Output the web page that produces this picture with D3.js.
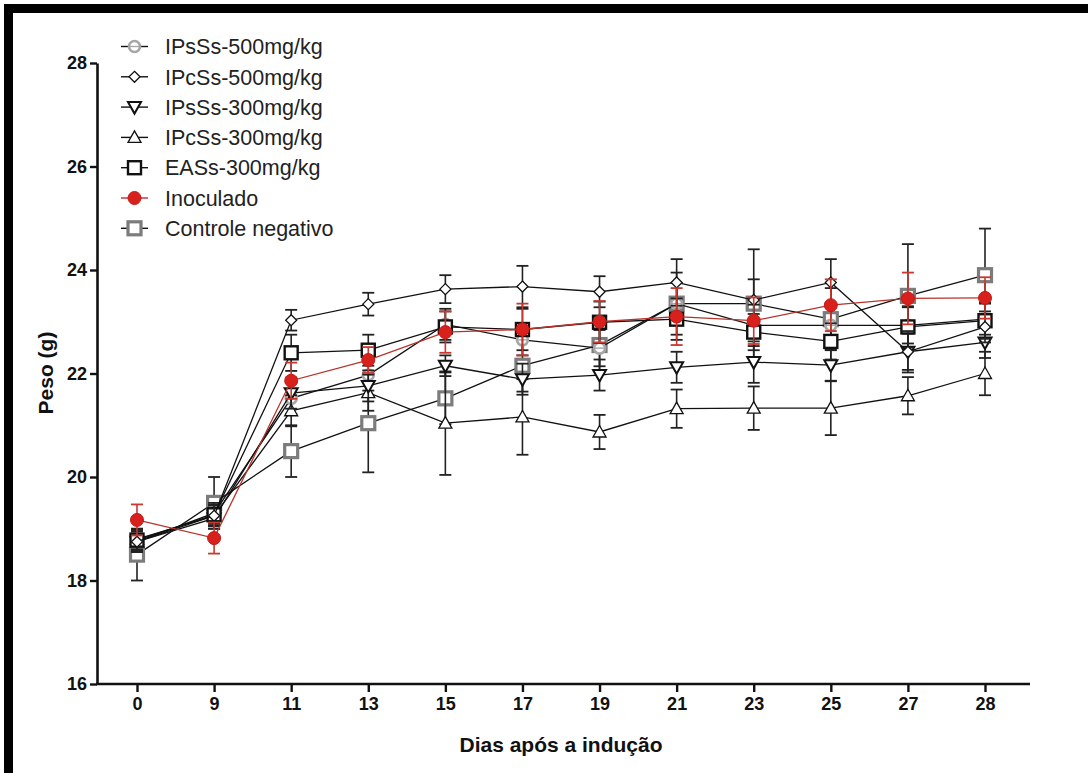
<!DOCTYPE html>
<html>
<head>
<meta charset="utf-8">
<script src="https://cdn.jsdelivr.net/npm/d3@7"></script>
<style>
  html, body { margin: 0; padding: 0; background: #fff; }
  svg { display: block; }
  text { font-family: "Liberation Sans", Arial, Helvetica, sans-serif; }
</style>
</head>
<body>
<svg id="chart" width="1088" height="773"></svg>
<script>
// Days after induction (categorical x positions)
const days = ["0", "9", "11", "13", "15", "17", "19", "21", "23", "25", "27", "28"];
const yTicks = [16, 18, 20, 22, 24, 26, 28];

// Mean body weight (g) per group
const ipsss500 = [18.75, 19.30, 21.52, 21.97, 22.95, 22.65, 22.49, 23.35, 22.93, 22.93, 22.93, 23.05];
const ipcss500 = [18.75, 19.25, 23.03, 23.34, 23.63, 23.68, 23.58, 23.76, 23.42, 23.76, 22.42, 22.90];
const ipsss300 = [18.75, 19.20, 21.62, 21.76, 22.15, 21.89, 21.97, 22.12, 22.22, 22.16, 22.42, 22.60];
const ipcss300 = [18.80, 19.25, 21.28, 21.63, 21.04, 21.16, 20.87, 21.32, 21.33, 21.33, 21.57, 22.00];
const eass300  = [18.78, 19.27, 22.40, 22.45, 22.90, 22.85, 22.99, 23.05, 22.80, 22.62, 22.90, 23.02];
const inoculado = [19.17, 18.82, 21.86, 22.26, 22.80, 22.85, 23.00, 23.10, 23.02, 23.32, 23.45, 23.46];
const controle  = [18.50, 19.50, 20.50, 21.04, 21.52, 22.15, 22.55, 23.35, 23.35, 23.05, 23.50, 23.90];

// Error (SD) per group
const ipsss500Err = [0.20, 0.20, 0.30, 0.30, 0.30, 0.30, 0.35, 0.40, 0.40, 0.40, 0.35, 0.30];
const ipcss500Err = [0.20, 0.20, 0.20, 0.22, 0.27, 0.40, 0.30, 0.45, 0.40, 0.45, 0.40, 0.30];
const ipsss300Err = [0.20, 0.20, 0.30, 0.30, 0.20, 0.30, 0.30, 0.30, 0.40, 0.30, 0.35, 0.30];
const ipcss300Err = [0.20, 0.20, 0.30, 0.35, 1.00, 0.73, 0.33, 0.37, 0.42, 0.52, 0.36, 0.42];
const eass300Err  = [0.20, 0.20, 0.35, 0.30, 0.30, 0.40, 0.40, 0.40, 0.35, 0.35, 0.40, 0.35];
const inoculadoErr = [0.30, 0.30, 0.35, 0.25, 0.40, 0.50, 0.40, 0.55, 0.45, 0.50, 0.50, 0.40];
const controleErr  = [0.50, 0.50, 0.50, 0.95, 0.50, 0.50, 0.50, 0.60, 1.05, 0.60, 1.00, 0.90];

const seriesNames = ["IPsSs-500mg/kg", "IPcSs-500mg/kg", "IPsSs-300mg/kg", "IPcSs-300mg/kg",
                     "EASs-300mg/kg", "Inoculado", "Controle negativo"];

const series = [
  { name: seriesNames[0], values: ipsss500, err: ipsss500Err, shape: "circleGray", line: "#111", errColor: "#222" },
  { name: seriesNames[1], values: ipcss500, err: ipcss500Err, shape: "diamond", line: "#111", errColor: "#222" },
  { name: seriesNames[2], values: ipsss300, err: ipsss300Err, shape: "triDown", line: "#111", errColor: "#222" },
  { name: seriesNames[3], values: ipcss300, err: ipcss300Err, shape: "triUp", line: "#111", errColor: "#222" },
  { name: seriesNames[4], values: eass300, err: eass300Err, shape: "square", line: "#111", errColor: "#222" },
  { name: seriesNames[5], values: inoculado, err: inoculadoErr, shape: "redDot", line: "#b8322a", errColor: "#c8382e" },
  { name: seriesNames[6], values: controle, err: controleErr, shape: "graySquare", line: "#111", errColor: "#222" }
];

const svg = d3.select("#chart");

// Frame
svg.append("rect").attr("x", 4).attr("y", 4).attr("width", 9).attr("height", 769).attr("fill", "#000");
svg.append("rect").attr("x", 4).attr("y", 4).attr("width", 1084).attr("height", 9).attr("fill", "#000");

const plot = { left: 97, right: 1030, top: 63, bottom: 684 };

const x = d3.scalePoint().domain(days).range([137, 985]);
const y = d3.scaleLinear().domain([16, 28]).range([plot.bottom, plot.top]);

const tickFont = "'Liberation Sans', Arial, sans-serif";

// Y axis
const yAxis = d3.axisLeft(y).tickValues(yTicks).tickSize(7).tickSizeOuter(0).tickPadding(3);
const gy = svg.append("g").attr("transform", `translate(${plot.left},0)`).call(yAxis);
gy.select(".domain").attr("stroke", "#111").attr("stroke-width", 2.6);
gy.selectAll(".tick line").attr("stroke", "#111").attr("stroke-width", 2.4);
gy.selectAll(".tick text").attr("font-size", 18).attr("font-weight", "bold").attr("fill", "#111")
  .attr("font-family", tickFont);

// X axis
const xAxis = d3.axisBottom(x).tickSize(8).tickSizeOuter(0).tickPadding(5);
const gx = svg.append("g").attr("transform", `translate(0,${plot.bottom})`).call(xAxis);
gx.select(".domain").remove();
gx.append("line").attr("x1", plot.left - 1).attr("x2", plot.right).attr("y1", 0).attr("y2", 0)
  .attr("stroke", "#111").attr("stroke-width", 2.6);
gx.selectAll(".tick line").attr("stroke", "#111").attr("stroke-width", 2.4);
gx.selectAll(".tick text").attr("font-size", 18).attr("font-weight", "bold").attr("fill", "#111")
  .attr("font-family", tickFont);

// Axis titles
svg.append("text").attr("x", 561).attr("y", 752).attr("text-anchor", "middle")
  .attr("font-size", 21).attr("font-weight", "bold").attr("fill", "#111").text("Dias após a indução");
svg.append("text").attr("transform", "translate(53,373) rotate(-90)").attr("text-anchor", "middle")
  .attr("font-size", 21).attr("font-weight", "bold").attr("fill", "#111").text("Peso (g)");

// Marker drawing
function drawMarker(g, shape) {
  switch (shape) {
    case "circleGray":
      g.append("circle").attr("r", 5.5).attr("fill", "#fff").attr("stroke", "#a6a6a6").attr("stroke-width", 2.6);
      g.append("line").attr("x1", -5).attr("x2", 5).attr("stroke", "#a6a6a6").attr("stroke-width", 1.4);
      break;
    case "diamond":
      g.append("path").attr("d", "M0,-5.5L5.5,0L0,5.5L-5.5,0Z").attr("fill", "#fff").attr("stroke", "#111").attr("stroke-width", 1.3);
      break;
    case "triDown":
      g.append("path").attr("d", "M-6.5,-5L6.5,-5L0,6.5Z").attr("fill", "#fff").attr("stroke", "#111").attr("stroke-width", 2);
      break;
    case "triUp":
      g.append("path").attr("d", "M-6.5,5L6.5,5L0,-6.5Z").attr("fill", "#fff").attr("stroke", "#111").attr("stroke-width", 1.3);
      break;
    case "square":
      g.append("rect").attr("x", -6.5).attr("y", -6.5).attr("width", 13).attr("height", 13)
        .attr("fill", "#fff").attr("stroke", "#111").attr("stroke-width", 2.4);
      break;
    case "redDot":
      g.append("circle").attr("r", 6.5).attr("fill", "#d8201c").attr("stroke", "#c41a17").attr("stroke-width", 1);
      break;
    case "graySquare":
      g.append("rect").attr("x", -6.5).attr("y", -6.5).attr("width", 13).attr("height", 13)
        .attr("fill", "#fff").attr("stroke", "#7c7c7c").attr("stroke-width", 3.2);
      break;
  }
}

// Draw order: negative control underneath, infected group on top
const drawOrder = [6, 0, 3, 2, 4, 1, 5];
const capHalf = 6;

drawOrder.forEach(i => {
  const s = series[i];
  const g = svg.append("g");
  const pts = days.map((d, k) => ({ d, v: s.values[k], e: s.err[k] }));

  // error bars
  const eb = g.append("g");
  pts.forEach(p => {
    const cx = x(p.d);
    eb.append("line").attr("x1", cx).attr("x2", cx).attr("y1", y(p.v + p.e)).attr("y2", y(p.v - p.e))
      .attr("stroke", s.errColor).attr("stroke-width", 1.6);
    [p.v + p.e, p.v - p.e].forEach(t => {
      eb.append("line").attr("x1", cx - capHalf).attr("x2", cx + capHalf).attr("y1", y(t)).attr("y2", y(t))
        .attr("stroke", s.errColor).attr("stroke-width", 1.8);
    });
  });

  // connecting line
  g.append("path").datum(pts)
    .attr("d", d3.line().x(p => x(p.d)).y(p => y(p.v)))
    .attr("fill", "none").attr("stroke", s.line).attr("stroke-width", 1.3);

  // markers
  pts.forEach(p => {
    const m = g.append("g").attr("transform", `translate(${x(p.d)},${y(p.v)})`);
    drawMarker(m, s.shape);
  });
});

// Legend
const legend = svg.append("g");
const legY0 = 46.5, legStep = 30.3;
series.forEach((s, i) => {
  const ly = legY0 + i * legStep;
  const row = legend.append("g").attr("transform", `translate(0,${ly})`);
  row.append("line").attr("x1", 121).attr("x2", 148).attr("y1", 0).attr("y2", 0)
    .attr("stroke", s.shape === "redDot" ? s.line : "#111").attr("stroke-width", 1.4);
  const m = row.append("g").attr("transform", "translate(134.5,0)");
  drawMarker(m, s.shape);
  row.append("text").attr("x", 165).attr("y", 0).attr("dy", "0.36em")
    .attr("font-size", 21.5).attr("fill", "#222").text(s.name);
});
</script>
</body>
</html>
